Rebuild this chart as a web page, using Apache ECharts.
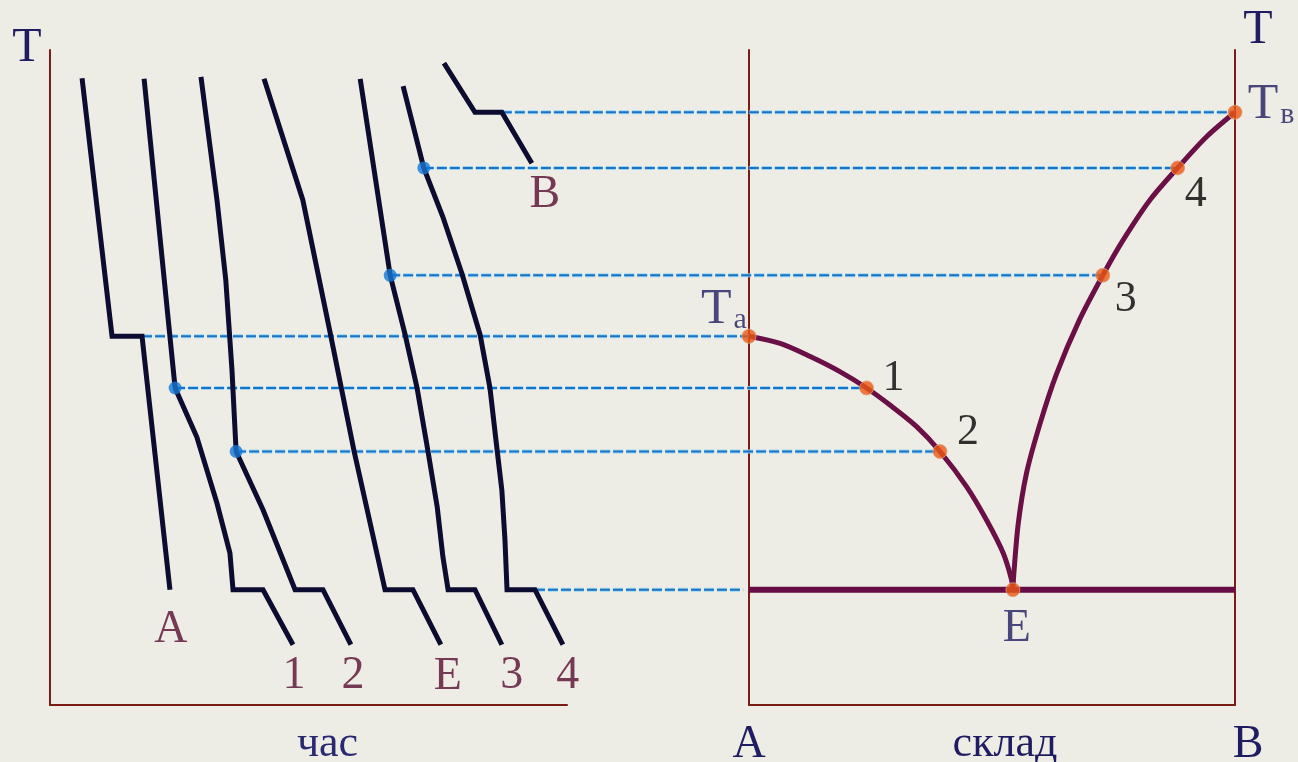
<!DOCTYPE html>
<html>
<head>
<meta charset="utf-8">
<script src="https://cdn.jsdelivr.net/npm/echarts@6/dist/echarts.min.js"></script>
<style>
  html, body { margin: 0; padding: 0; background: #eeede5; }
  #chart { width: 1298px; height: 762px; }
</style>
</head>
<body>
<div id="chart"></div>
<script>
// temperature levels (T axis, 0..100)
const TB = 90.5, T4 = 82.0, T3 = 65.6, TA = 56.3, T1 = 48.4, T2 = 38.7, TE = 17.6;

// cooling curves: [time, T]
const curveNames = ['A', '1', '2', 'E', '3', '4', 'B'];
const curveA = [[6.2, 95.7], [12.0, TA], [17.8, TA], [23.2, TE]];
const curve1 = [[18.2, 95.6], [24.2, T1], [28.4, 40.9], [32.3, 30.8], [34.8, 23.2], [35.4, TE], [41.2, TE], [47.0, 9.2]];
const curve2 = [[29.2, 95.9], [32.3, 77.1], [34.0, 64.9], [35.2, 51.1], [36.0, T2], [41.2, 29.8], [47.4, TE], [52.8, TE], [58.2, 9.2]];
const curveE = [[41.4, 95.6], [48.9, 77.1], [54.2, 56.8], [58.8, 38.8], [64.8, TE], [70.2, TE], [75.6, 9.2]];
const curve3 = [[60.0, 95.6], [65.8, T3], [68.7, 56.5], [71.0, 48.4], [73.1, 38.8], [74.9, 30.2], [76.0, 22.6], [77.0, TE], [82.2, TE], [87.4, 9.2]];
const curve4 = [[68.3, 94.5], [72.3, T4], [76.0, 74.5], [79.7, 65.8], [83.2, 56.5], [85.1, 48.4], [86.5, 38.8], [87.4, 32.8], [88.0, 25.2], [88.4, TE], [93.8, TE], [99.2, 9.2]];
const curveB = [[76.2, 98.0], [82.2, TB], [87.4, TB], [93.2, 82.7]];
const curves = [curveA, curve1, curve2, curveE, curve3, curve4, curveB];

// start of crystallisation on cooling curves
const breakPoints = [curve1[1], curve2[4], curve3[1], curve4[1]];

// phase diagram: [composition %B, T]
const liquidusA = [[0, TA], [6.4, 55.2], [12.6, 53.2], [18.7, 50.9], [24.2, T1], [29.0, 45.8], [34.5, 42.5],
  [39.3, T2], [44.8, 33.3], [48.9, 28.2], [52.3, 23.2], [54.0, 19.2], [54.3, TE]];
const liquidusB = [[54.3, TE], [54.5, 20.1], [55.4, 27.7], [57.1, 35.4], [59.9, 43.0], [63.3, 50.6], [68.0, 58.8],
  [72.8, T3], [77.0, 71.0], [82.5, 77.1], [88.2, T4], [94.2, 86.8], [100, TB]];
const eutectic = [[0, TE], [100, TE]];
const phaseNames = ['Ta', '1', '2', 'E', '3', '4', 'Tв'];
const phaseX = [0, 24.2, 39.3, 54.3, 72.8, 88.2, 100];
const phaseT = [TA, T1, T2, TE, T3, T4, TB];

// projection lines: cooling-curve point -> composition
const ties = [
  [curveB[2], 100], [curve4[1], 88.2], [curve3[1], 72.8], [curveA[2], 0],
  [curve1[1], 24.2], [curve2[4], 39.3], [curve4[10], -1.2]
];

const serif = 'Liberation Serif, DejaVu Serif, serif';
const axisRed = '#7b1d12';
const navy = '#1f1c62';

// label offsets (style only)
const curveLabelOffset = { A: [1, 40], '1': [1, 31], '2': [2, 31], E: [7, 32], '3': [10, 31], '4': [5, 31], B: [13, 32] };
const phaseLabelOffset = { Ta: [-25, -26], '1': [27, -10], '2': [28, -19], E: [4, 39], '3': [23, 24], '4': [18, 27], 'Tв': [36, -7] };
const phaseLabelColor = { Ta: navy, E: navy, 'Tв': navy };

const chart = echarts.init(document.getElementById('chart'));

const hiddenAxis = {
  axisTick: { show: false }, axisLabel: { show: false }, splitLine: { show: false },
  axisLine: { show: true, lineStyle: { color: axisRed, width: 2 } }
};

const series = [];

ties.forEach(function (t, i) {
  series.push({
    id: 'tieHalo' + i, type: 'line', xAxisIndex: 2, yAxisIndex: 3,
    symbol: 'none', silent: true, z: 1, data: [],
    lineStyle: { color: 'rgba(140,210,245,0.85)', width: 4, type: [10, 3] }
  });
  series.push({
    id: 'tie' + i, type: 'line', xAxisIndex: 2, yAxisIndex: 3,
    symbol: 'none', silent: true, z: 2, data: [],
    lineStyle: { color: '#1a72c6', width: 2, type: [10, 3] }
  });
});

curves.forEach(function (c, i) {
  series.push({
    name: curveNames[i], type: 'line', xAxisIndex: 0, yAxisIndex: 0,
    data: c, symbol: 'none', z: 3,
    lineStyle: { color: '#0c0c30', width: 5, join: 'miter' }
  });
});

series.push({
  type: 'scatter', xAxisIndex: 0, yAxisIndex: 0, symbolSize: 0, z: 5,
  data: curves.map(function (c, i) { return { name: curveNames[i], value: c[c.length - 1] }; }),
  label: {
    show: true, position: 'inside', formatter: '{b}', color: '#560b30',
    fontFamily: serif, fontSize: 46
  },
  labelLayout: function (p) {
    const o = curveLabelOffset[curveNames[p.dataIndex]];
    return { dx: o[0], dy: o[1] };
  }
});

series.push({
  type: 'scatter', xAxisIndex: 0, yAxisIndex: 0, symbolSize: 13, z: 6,
  data: breakPoints, itemStyle: { color: '#1677d6' }
});

series.push({
  type: 'line', xAxisIndex: 1, yAxisIndex: 1, data: liquidusA, smooth: 0.3, symbol: 'none', z: 3,
  lineStyle: { color: '#6b0f47', width: 5 }
});
series.push({
  type: 'line', xAxisIndex: 1, yAxisIndex: 1, data: liquidusB, smooth: 0.3, symbol: 'none', z: 3,
  lineStyle: { color: '#6b0f47', width: 5 }
});
series.push({
  type: 'line', xAxisIndex: 1, yAxisIndex: 1, data: eutectic, symbol: 'none', z: 3,
  lineStyle: { color: '#650d44', width: 6 }
});

series.push({
  type: 'scatter', xAxisIndex: 1, yAxisIndex: 1, symbolSize: 14, z: 6,
  data: phaseNames.map(function (n, i) { return { name: n, value: [phaseX[i], phaseT[i]] }; }),
  itemStyle: { color: '#ee5812', borderColor: '#d9a080', borderWidth: 1 },
  label: {
    show: true, position: 'inside', fontFamily: serif, fontSize: 46,
    formatter: function (p) {
      const n = p.name;
      if (n.length === 2) return '{t|' + n[0] + '}{s|' + n[1] + '}';
      return '{' + (phaseLabelColor[n] ? 'n' : 'k') + '|' + n + '}';
    },
    rich: {
      t: { fontFamily: serif, fontSize: 50, color: navy },
      s: { fontFamily: serif, fontSize: 30, color: navy, verticalAlign: 'bottom', padding: [0, 0, 0, 2] },
      n: { fontFamily: serif, fontSize: 46, color: navy },
      k: { fontFamily: serif, fontSize: 44, color: '#000000' }
    }
  },
  labelLayout: function (p) {
    const o = phaseLabelOffset[phaseNames[p.dataIndex]];
    return { dx: o[0], dy: o[1] };
  }
});

const option = {
  backgroundColor: '#eeede5',
  animation: false,
  grid: [
    { left: 50, top: 50, width: 517, height: 655, outerBoundsMode: 'none' },
    { left: 749, top: 50, width: 486, height: 655, outerBoundsMode: 'none' },
    { left: 50, top: 50, width: 1185, height: 655, outerBoundsMode: 'none' }
  ],
  xAxis: [
    Object.assign({}, hiddenAxis, {
      gridIndex: 0, type: 'value', min: 0, max: 100,
      name: 'час', nameLocation: 'middle', nameGap: 17, nameMoveOverlap: false,
      nameTextStyle: { fontFamily: serif, fontSize: 44, color: '#2a2870', padding: [0, 0, 0, 38] }
    }),
    Object.assign({}, hiddenAxis, {
      gridIndex: 1, type: 'value', min: 0, max: 100, interval: 100,
      name: 'склад', nameLocation: 'middle', nameGap: 17, nameMoveOverlap: false,
      nameTextStyle: { fontFamily: serif, fontSize: 44, color: navy, padding: [0, 0, 0, 26] },
      axisLabel: {
        show: true, margin: 17, hideOverlap: false,
        formatter: function (v) { return v === 0 ? '{a|A}' : '{b|B}'; },
        rich: {
          a: { fontFamily: serif, fontSize: 46, color: navy },
          b: { fontFamily: serif, fontSize: 46, color: navy, padding: [0, 0, 0, 26] }
        }
      }
    }),
    { gridIndex: 2, type: 'value', min: 0, max: 100, show: false }
  ],
  yAxis: [
    Object.assign({}, hiddenAxis, {
      gridIndex: 0, type: 'value', min: 0, max: 100,
      name: 'T', nameLocation: 'end', nameGap: -22,
      nameTextStyle: { fontFamily: serif, fontSize: 48, color: navy, padding: [0, 46, 0, 0] }
    }),
    Object.assign({}, hiddenAxis, { gridIndex: 1, type: 'value', min: 0, max: 100, position: 'left' }),
    Object.assign({}, hiddenAxis, {
      gridIndex: 1, type: 'value', min: 0, max: 100, position: 'right',
      name: 'T', nameLocation: 'end', nameGap: -4,
      nameTextStyle: { fontFamily: serif, fontSize: 48, color: navy, padding: [0, 0, 0, 46] }
    }),
    { gridIndex: 2, type: 'value', min: 0, max: 100, show: false }
  ],
  series: series
};

chart.setOption(option);

// project each cooling-curve point across to the phase diagram (overlay grid spans both panels)
const tieUpdates = [];
ties.forEach(function (t, i) {
  const pLeft = chart.convertToPixel({ xAxisIndex: 0, yAxisIndex: 0 }, t[0]);
  const pRight = chart.convertToPixel({ xAxisIndex: 1, yAxisIndex: 1 }, [t[1], t[0][1]]);
  const a = chart.convertFromPixel({ xAxisIndex: 2, yAxisIndex: 3 }, pLeft);
  const b = chart.convertFromPixel({ xAxisIndex: 2, yAxisIndex: 3 }, pRight);
  const seg = [[a[0], t[0][1]], [b[0], t[0][1]]];
  tieUpdates.push({ id: 'tieHalo' + i, data: seg });
  tieUpdates.push({ id: 'tie' + i, data: seg });
});
chart.setOption({ series: tieUpdates });
</script>
</body>
</html>
